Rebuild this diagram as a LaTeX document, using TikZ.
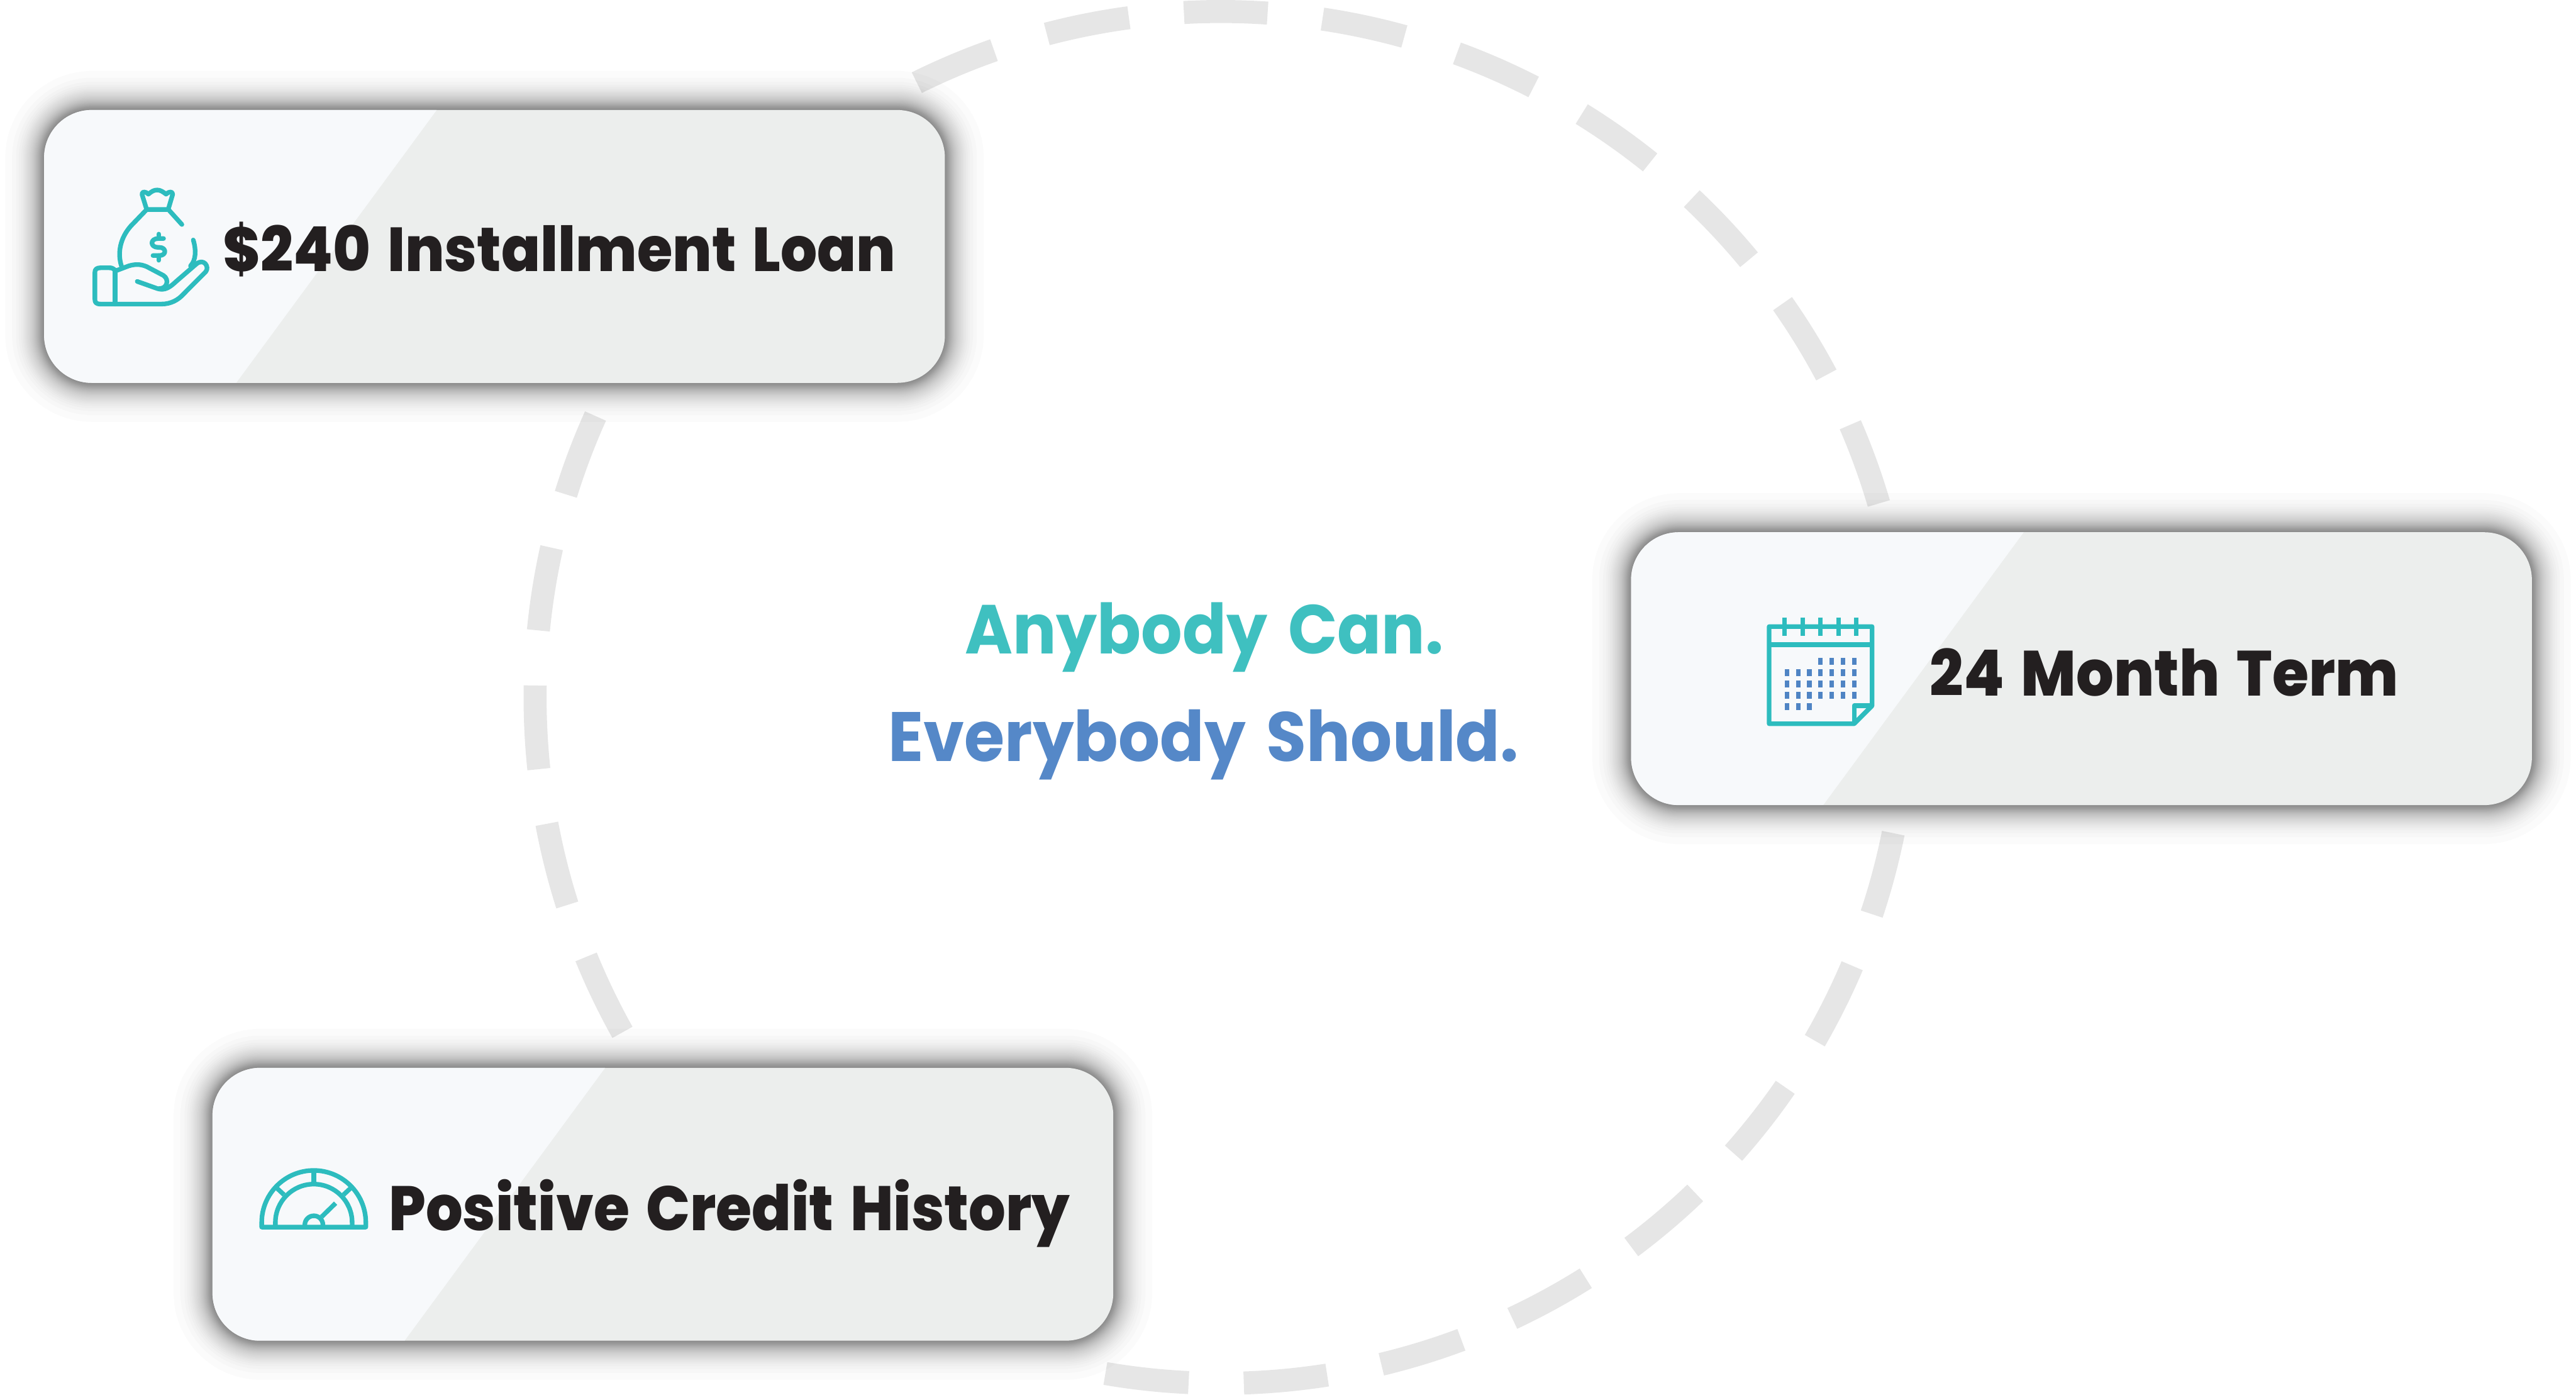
\documentclass[tikz,border=0pt]{standalone}
\usepackage{fontspec}
\newfontfamily\labelfont{Poppins Bold}[FakeStretch=0.935, WordSpace=1.5]
\newfontfamily\cardfont{Poppins ExtraBold}[FakeStretch=0.925, WordSpace=1.5]
\definecolor{ringgray}{HTML}{E6E6E6}
\definecolor{cardgray}{HTML}{ECEEED}
\definecolor{cardlight}{HTML}{F7F9FB}
\definecolor{inkblack}{HTML}{231F20}
\definecolor{icontealc}{HTML}{2DBCBE}
\definecolor{iconblue}{HTML}{4F84C4}
\definecolor{headteal}{HTML}{3FC0C0}
\definecolor{headblue}{HTML}{5588C8}

\tikzset{
  ringdash/.style={ringgray, line width=1.4mm},
  cardshade/.style={black, opacity=0.0172},
  cardbox/.style={
    rectangle, rounded corners=2.9mm, inner sep=0pt, outer sep=0pt,
    minimum width=5.48cm, minimum height=1.66cm, fill=cardgray,
    path picture={
      \fill[cardlight, sharp corners] (path picture bounding box.north west) -- ++(239,0)
        -- ++(-122,166) -- ++(-117,0) -- cycle;
    }},
  cardtext/.style={anchor=base west, inner sep=0pt, text=inkblack,
    font=\fontsize{#1}{13pt}\cardfont},
  headtext/.style={anchor=base, inner sep=0pt,
    font=\fontsize{#1}{14pt}\labelfont},
  iconline/.style={icontealc, line width=.28mm, line cap=round, line join=round},
  iconsharp/.style={icontealc, line width=.28mm, line join=round}
}

\begin{document}
\begin{tikzpicture}[x=0.01cm, y=-0.01cm]
  \useasboundingbox (0,0) rectangle (1568,849);

  % Dashed ring
  \foreach \k in {0,1,2,5,6,...,13,15,16,...,30} {
    \pgfmathsetmacro{\a}{-(86.1+11.613*\k)}
    \pgfmathsetmacro{\b}{\a-7}
    \draw[ringdash] (743.2,424.5) ++(\a:417.5) arc (\a:\b:417.5);
  }

  % Cards with their soft shadows
  \foreach \cx/\cy/\cname in {301/150/loanbox, 1267/407/termbox, 403.5/733/creditbox} {
    \foreach \k in {1,...,40} {
      \pgfmathsetmacro{\d}{5.88*ln(1/(1-0.9828^\k)-1)}
      \pgfmathsetmacro{\r}{2.9+0.1*\d}
      \fill[cardshade, rounded corners=\r mm] (\cx-274-\d,\cy-83-\d) rectangle (\cx+274+\d,\cy+83+\d);
    }
    \node[cardbox] (\cname) at (\cx,\cy) {};
  }

  % Labels
  \node[cardtext=10.75pt] (loantext) at (135,165) {\$240 Installment Loan};
  \node[cardtext=11.05pt] (termtext) at (1174,423.5) {24 Month Term};
  \node[cardtext=10.87pt] (credittext) at (236,749) {Positive Credit History};
  \node[headtext=12pt, text=headteal] (headone) at (733,398) {Anybody Can.};
  \node[headtext=12.1pt, text=headblue] (headtwo) at (732.5,463.5) {Everybody Should.};

  % Money bag icon
  \begin{scope}[shift={(20.04,60.1)}, x=0.001278cm, y=-0.000895cm]
    \draw[iconline] (540,749) -- (518,648) .. controls (515,625) and (535,625) .. (548,645)
      .. controls (565,625) and (575,617) .. (590,617)
      .. controls (605,617) and (618,630) .. (632,645)
      .. controls (645,625) and (666,625) .. (663,648) -- (642,749) -- cycle;
    \draw[iconline] (538,752) -- (465,860) .. controls (415,940) and (400,1040) .. (420,1130);
    \draw[iconline] (645,752) -- (707,850);
    \draw[iconline] (761,955) .. controls (775,1020) and (775,1090) .. (748,1130);
    % hand
    \draw[iconline] (390,1158) .. controls (375,1143) and (375,1143) .. (360,1143) -- (322,1143)
      .. controls (300,1143) and (294,1155) .. (294,1175) -- (294,1355)
      .. controls (294,1378) and (300,1388) .. (322,1388) -- (610,1388)
      .. controls (655,1388) and (690,1360) .. (715,1320) -- (820,1170)
      .. controls (840,1135) and (810,1075) .. (775,1118) -- (680,1235)
      .. controls (650,1275) and (625,1300) .. (590,1283) -- (495,1235);
    \draw[iconline] (390,1165) -- (390,1388);
    \draw[iconline] (390,1165) -- (455,1130) .. controls (490,1115) and (515,1120) .. (540,1135)
      -- (620,1195) .. controls (650,1225) and (635,1285) .. (600,1283);
    % dollar sign
    \draw[iconline] (620,945) -- (595,945) .. controls (555,945) and (555,1005) .. (595,1005)
      -- (600,1005) .. controls (635,1005) and (635,1060) .. (600,1060) -- (570,1060);
    \draw[iconline] (597,915) -- (597,945);
    \draw[iconline] (597,1060) -- (597,1092);
  \end{scope}

  % Calendar icon
  \begin{scope}[shift={(1042,350.7)}, x=0.000767cm, y=-0.000668cm]
    \draw[iconsharp] (457,457) -- (1278,457) -- (1278,1175) -- (1135,1338) -- (457,1338) -- cycle;
    \draw[iconsharp] (1135,1338) -- (1135,1175) -- (1278,1175);
    \draw[iconsharp] (457,621) -- (1278,621);
    \foreach \x in {581,724,867,1010,1153} {
      \draw[iconsharp] (\x,373) -- (\x,539);
    }
    \foreach \x in {867,957,1046,1135} {
      \fill[iconblue] (\x-18,743) rectangle (\x+18,805);
    }
    \foreach \y in {877,979,1082} {
      \foreach \x in {599,689,778,867,957,1046,1135} {
        \fill[iconblue] (\x-18,\y-31) rectangle (\x+18,\y+31);
      }
    }
    \foreach \x in {599,689,778} {
      \fill[iconblue] (\x-18,1153) rectangle (\x+18,1215);
    }
  \end{scope}

  % Gauge icon
  \begin{scope}[shift={(140.3,691.4)}, x=0.000668cm, y=-0.000668cm]
    \draw[iconsharp] (283,827) -- (283,785) arc (180:360:472) -- (1227,827) -- cycle;
    \draw[iconsharp] (407,827) -- (407,785) arc (180:360:348) -- (1103,827);
    \draw[iconsharp] (755,437) -- (755,313);
    \draw[iconsharp] (755,785) ++(-137:369) -- ++(-137:103);
    \draw[iconsharp] (755,785) ++(-43:369) -- ++(-43:103);
    \draw[iconsharp] (674,827) -- (674,806) arc (180:360:82) -- (838,827);
    \draw[iconsharp] (827,733) -- (953,610);
  \end{scope}
\end{tikzpicture}
\end{document}
